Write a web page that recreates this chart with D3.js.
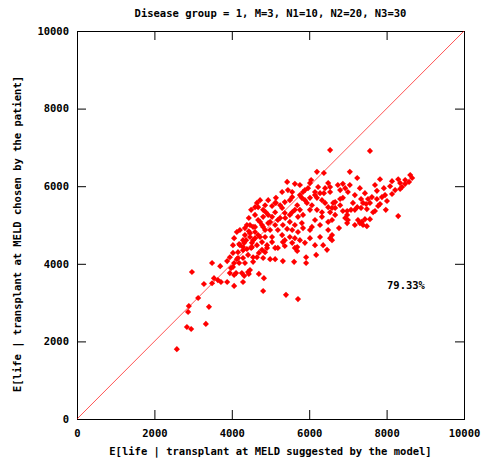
<!DOCTYPE html>
<html>
<head>
<meta charset="utf-8">
<script src="https://cdn.jsdelivr.net/npm/d3@7/dist/d3.min.js"></script>
<style>
  html, body { margin: 0; padding: 0; background: #fff; }
  svg { display: block; }
  text { font-family: "DejaVu Sans Mono", "Liberation Mono", monospace; font-weight: bold; font-size: 10.5px; fill: #000; }
</style>
</head>
<body>
<div id="chart"></div>
<script>
  "use strict";

  var TITLE = "Disease group = 1, M=3, N1=10, N2=20, N3=30";
  var X_LABEL = "E[life | transplant at MELD suggested by the model]";
  var Y_LABEL = "E[life | transplant at MELD chosen by the patient]";
  var X_TICKS = [0, 2000, 4000, 6000, 8000, 10000];
  var Y_TICKS = [0, 2000, 4000, 6000, 8000, 10000];
  var ANNOTATION = { x: 8010, y: 3450, text: "79.33%" };

  // E[life | model MELD]
  var suggested = [
    2580, 2840, 2950, 3330, 2870, 2890, 3410, 3130, 3280, 3490, 3540, 3640, 3720, 3880, 4060, 4290,
    2970, 3490, 3700, 3950, 4060, 4110, 4260, 4320, 4420, 4440, 4030, 3980, 4060, 4190, 4340, 4130,
    4290, 4160, 4390, 4030, 4190, 4320, 4060, 4130, 4440, 4470, 4550, 4650, 4700, 4780, 4910, 5040,
    4730, 4650, 4520, 4990, 5120, 4700, 4830, 4810, 5400, 5710, 5190, 5370, 5630, 5690, 6460, 6180,
    5920, 5920, 5610, 5320, 4810, 4550, 4470, 4910,
    4500, 4440, 4550, 4290, 4520, 4550, 4650, 4680, 4860, 5040, 4810, 5140, 5140, 5370, 5300, 5690,
    5940, 6410, 6490, 6020, 6200, 6330, 5560, 5370, 5840, 5710, 6330, 6490, 4810, 4680, 5040, 5190,
    4940, 5500, 5320, 5630, 5810, 6150, 6070, 6020, 4600, 4810, 4990, 5190, 5430, 5560, 5710, 5840,
    4470, 4680, 4860, 5300, 5500, 6280, 6490, 6540, 4780, 5040, 5320, 5560, 5760, 5890, 5690, 6360,
    6590, 6590, 6540, 6490, 6540, 6200, 6380, 5430, 5630, 6050, 6020, 5450, 5560, 5970, 5840, 6150,
    6280, 6380, 5560, 5810, 6020, 6200, 6540,
    7570, 7050, 7240, 7830, 8140, 8300, 8350, 8610, 8660, 8580, 8480, 8400, 8350, 8090, 7930, 7750,
    8140, 7880, 8010, 7750, 7620, 7520, 7440, 7340, 7390, 7470, 7570, 7830, 7700, 7650, 7980, 8300,
    7490, 7340, 7240, 7130, 7080, 6980, 6870, 6980, 6930, 7000, 6980, 7180, 7260, 7360, 7390, 7440,
    7570, 7490, 7310, 6770, 6740, 6870, 6930, 7000, 6800, 6670, 6800, 6870, 6620, 6670, 6540, 6590,
    6590, 3880, 4160, 3950, 4030, 4290, 4500,
    4340, 4600, 4780, 4940, 5120, 5250, 5500, 5760, 5890, 6230, 6330, 6070, 5760, 5500, 5250, 4990,
    4730, 4600, 4880, 4470, 4340, 4210, 4370, 4600, 4860, 5120, 5380, 5630, 5890, 6150, 6410, 5760,
    5300, 5120, 4940, 4730, 4600, 4390, 4210, 4290, 4420, 4860, 5120, 5370, 5630, 6020, 6150, 6280,
    6670, 6800, 7180, 7310, 7050, 7700, 7960, 8220, 8480, 7180, 7780
  ];

  // E[life | patient MELD]
  var chosen = [
    1800, 2370, 2320, 2450, 2760, 2910, 2890, 3120, 3480, 3500, 3630, 3580, 3530, 3530, 3430, 3530,
    3790, 4020, 3940, 3760, 3710, 3760, 3760, 3690, 3790, 3740, 3920, 3890, 4020, 4020, 4020, 4120,
    4150, 4300, 4380, 4480, 4510, 4540, 4660, 4820, 4840, 4690, 4170, 4170, 4280, 4360, 4480, 4690,
    4690, 4480, 4430, 4120, 4120, 3740, 3630, 3300, 3200, 3090, 4410, 4460, 4410, 4330, 4360, 4230,
    4170, 4020, 4050, 4070, 4150, 4050, 3840, 4410,
    5390, 5180, 4950, 4610, 4540, 4610, 5570, 5460, 5510, 5490, 5390, 5700, 5570, 5590, 5440, 5510,
    5570, 5570, 5460, 5390, 5390, 5330, 5330, 5310, 5260, 5210, 5210, 5080, 5210, 5130, 5210, 5130,
    5050, 5080, 5000, 5000, 5050, 5130, 4950, 4870, 4950, 4950, 4870, 4870, 4900, 4870, 4820, 4920,
    4790, 4740, 4690, 4740, 4690, 4690, 4870, 4660, 4560, 4560, 4560, 4540, 4610, 4540, 4430, 4480,
    5130, 5440, 5850, 6080, 6930, 6370, 6340, 6110, 6060, 6160, 6080, 5900, 5850, 5950, 5850, 5850,
    5820, 5820, 5720, 5700, 5700, 5700, 5980,
    6910, 6370, 6210, 6180, 6130, 6180, 6080, 6290, 6210, 6110, 6060, 5980, 5930, 6000, 5950, 5880,
    5800, 5720, 5620, 5670, 5720, 5670, 5820, 5670, 5570, 5540, 5570, 5540, 5360, 5330, 5390, 5230,
    5410, 5440, 5460, 5570, 5390, 5360, 5360, 5260, 5180, 5130, 5050, 5000, 5130, 5080, 5000, 5150,
    5150, 4970, 5050, 4920, 6030, 6060, 5950, 5850, 5900, 5590, 5670, 5700, 5570, 5440, 5330, 4740,
    4610, 4070, 4150, 4170, 4280, 4430, 4410,
    4740, 4820, 5000, 5260, 5330, 5510, 5640, 5770, 5900, 5980, 5640, 5510, 5390, 5260, 5180, 5080,
    5080, 5260, 5330, 5000, 4920, 4480, 4610, 4660, 4870, 5000, 5180, 5390, 5640, 5770, 5950, 6030,
    5850, 5570, 5640, 5640, 5460, 5000, 4870, 4350, 4230, 4300, 4410, 4610, 4660, 4660, 4480, 5000,
    5260, 5510, 5770, 5950, 6030, 6030, 5770, 5900, 6160, 5390, 5490
  ];

  var W = 487, H = 461;
  var margin = { top: 31, right: 23, bottom: 42, left: 77 };
  var plotW = W - margin.left - margin.right;
  var plotH = H - margin.top - margin.bottom;
  var TICK = 9;

  var svg = d3.select("#chart").append("svg")
    .attr("width", W)
    .attr("height", H);

  var x = d3.scaleLinear().domain([0, 10000]).range([0, plotW]);
  var y = d3.scaleLinear().domain([0, 10000]).range([plotH, 0]);

  var g = svg.append("g")
    .attr("transform", "translate(" + margin.left + "," + margin.top + ")");

  // Axes with inward ticks, mirrored on top and right
  function styleAxis(sel) {
    sel.attr("font-size", null).attr("font-family", null);
    sel.select(".domain").remove();
    sel.selectAll(".tick line").attr("stroke", "#000").attr("stroke-width", 1);
    sel.selectAll(".tick text").attr("fill", "#000");
  }

  g.append("g")
    .attr("transform", "translate(0," + plotH + ")")
    .call(d3.axisBottom(x).tickValues(X_TICKS).tickFormat(d3.format("d"))
      .tickSizeInner(-TICK).tickSizeOuter(0).tickPadding(11))
    .call(styleAxis);

  g.append("g")
    .call(d3.axisTop(x).tickValues(X_TICKS).tickFormat("")
      .tickSizeInner(-TICK).tickSizeOuter(0))
    .call(styleAxis);

  g.append("g")
    .call(d3.axisLeft(y).tickValues(Y_TICKS).tickFormat(d3.format("d"))
      .tickSizeInner(-TICK).tickSizeOuter(0).tickPadding(8))
    .call(styleAxis);

  g.append("g")
    .attr("transform", "translate(" + plotW + ",0)")
    .call(d3.axisRight(y).tickValues(Y_TICKS).tickFormat("")
      .tickSizeInner(-TICK).tickSizeOuter(0))
    .call(styleAxis);

  // Frame
  g.append("rect")
    .attr("x", 0.5).attr("y", 0.5)
    .attr("width", plotW).attr("height", plotH)
    .attr("fill", "none")
    .attr("stroke", "#000")
    .attr("stroke-width", 1);

  // y = x reference line
  g.append("line")
    .attr("x1", x(0)).attr("y1", y(0))
    .attr("x2", x(10000)).attr("y2", y(10000))
    .attr("stroke", "#ff0000")
    .attr("stroke-opacity", 0.75)
    .attr("stroke-width", 0.9);

  // Points
  var points = suggested.map(function (v, i) { return { x: v, y: chosen[i] }; });
  var sym = d3.symbol().type(d3.symbolDiamond2).size(24);

  g.selectAll(".pt")
    .data(points)
    .enter().append("path")
    .attr("class", "pt")
    .attr("d", sym)
    .attr("transform", function (d) { return "translate(" + x(d.x) + "," + y(d.y) + ")"; })
    .attr("fill", "#ff0000");

  g.append("text")
    .attr("x", x(ANNOTATION.x))
    .attr("y", y(ANNOTATION.y))
    .attr("dy", "0.35em")
    .text(ANNOTATION.text);

  // Title and axis labels
  svg.append("text")
    .attr("x", margin.left + plotW / 2)
    .attr("y", 13)
    .attr("dy", "0.35em")
    .attr("text-anchor", "middle")
    .text(TITLE);

  svg.append("text")
    .attr("x", margin.left + plotW / 2)
    .attr("y", 451)
    .attr("dy", "0.35em")
    .attr("text-anchor", "middle")
    .text(X_LABEL);

  svg.append("text")
    .attr("transform", "translate(17,234) rotate(-90)")
    .attr("dy", "0.35em")
    .attr("text-anchor", "middle")
    .text(Y_LABEL);
</script>
</body>
</html>
